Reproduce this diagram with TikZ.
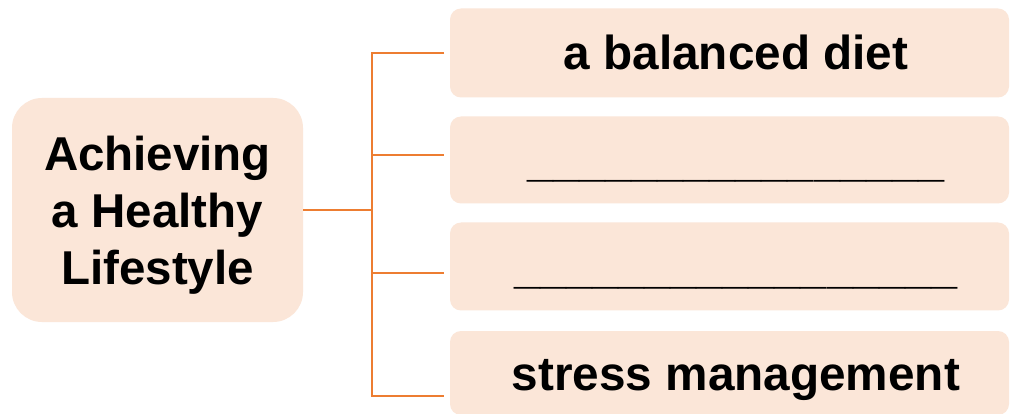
\documentclass[tikz,border=0pt]{standalone}
\usepackage{fontspec}
\setmainfont{Liberation Sans}
\definecolor{boxfill}{HTML}{FBE6D8}
\definecolor{linecol}{HTML}{ED7D31}
\begin{document}
\begin{tikzpicture}[x=1pt,y=-1pt,
  rootbox/.style={fill=boxfill, draw=none, rounded corners=30pt,
    minimum width=291pt, minimum height=224pt, inner sep=0pt,
    align=center, text height=148pt, text depth=0pt,
    font=\fontsize{47.5}{57}\selectfont\bfseries},
  leafbox/.style={fill=boxfill, draw=none, rounded corners=11pt,
    minimum width=559pt, minimum height=89pt, inner sep=0pt,
    text height=34pt, text depth=0pt,
    font=\fontsize{47.7}{57}\selectfont\bfseries},
  blank/.style={font=\fontsize{46.8}{57}\selectfont\bfseries},
  conn/.style={draw=linecol, line width=2.2pt}]
\clip (0,0) rectangle (1010,414);
\fill[white] (0,0) rectangle (1010,414);

\node[rootbox] (root) at (157.5,210) {Achieving\\a Healthy\\Lifestyle};

\node[leafbox] (b1) at (729.5,53) {\hspace*{13pt}a balanced diet};
\node[leafbox, blank, minimum height=87pt] (b2) at (729.5,160) {\hspace*{13pt}\_\_\_\_\_\_\_\_\_\_\_\_\_\_\_\_};
\node[leafbox, blank, minimum height=88pt] (b3) at (729.5,266.5) {\hspace*{13pt}\_\_\_\_\_\_\_\_\_\_\_\_\_\_\_\_\_};
\node[leafbox, minimum height=84pt] (b4) at (729.5,373) {\hspace*{13pt}stress management};

\coordinate (t1) at (372,53);
\coordinate (t2) at (372,155);
\coordinate (t3) at (372,273);
\coordinate (t4) at (372,396);
\coordinate (e1) at (444,53);
\coordinate (e2) at (444,155);
\coordinate (e3) at (444,273);
\coordinate (e4) at (444,396);

\draw[conn] (root.east) -- (root.east -| t1);
\draw[conn] (e1) -- (t1) -- (t4) -- (e4);
\draw[conn] (t2) -- (e2);
\draw[conn] (t3) -- (e3);
\end{tikzpicture}
\end{document}
